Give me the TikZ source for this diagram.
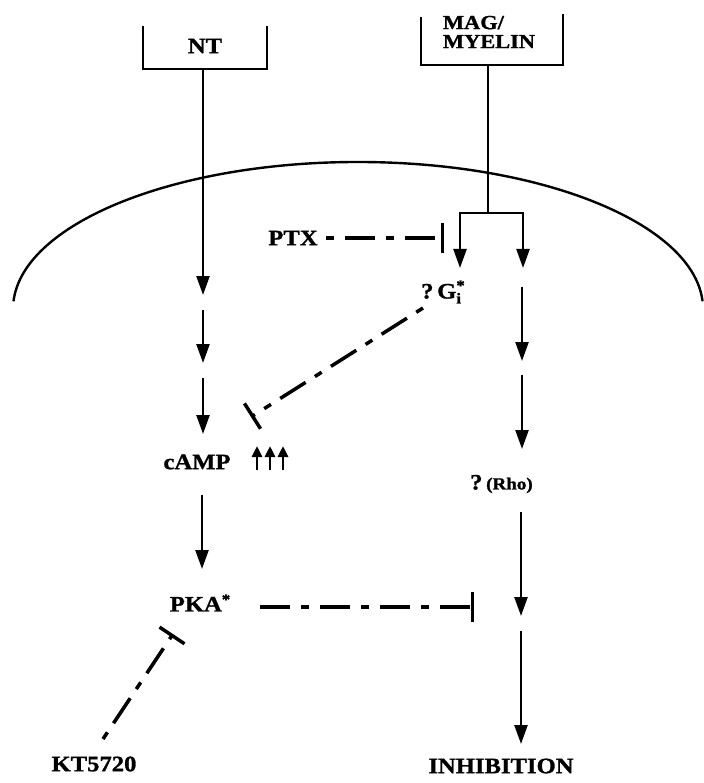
\documentclass[tikz,border=0pt]{standalone}
\usepackage{fontspec}
\setmainfont{Liberation Serif}[FakeStretch=1.12, FakeBold=1.2]
\usetikzlibrary{arrows.meta}
\begin{document}
\begin{tikzpicture}[x=1pt,y=-1pt,
  lbl/.style={font=\fontsize{22}{18}\selectfont\bfseries, inner sep=0pt},
  wire/.style={line width=2.4pt},
  boxline/.style={line width=2.8pt},
  act/.style={line width=2.4pt, -{Triangle[length=19pt,width=13pt]}},
  blk/.style={line width=3.5pt, dash pattern=on 30pt off 11pt on 8pt off 11pt,
              -{Bar[width=30pt,line width=3.5pt]}},
  rise/.style={line width=2.8pt, -{Triangle[length=11pt,width=10pt]}}
]
\useasboundingbox (0,0) rectangle (703,783);

% cell membrane
\draw[wire] (13.5,301.3) arc[start angle=183, end angle=357, x radius=345, y radius=147];

% ligand boxes (open at the top)
\draw[boxline] (143,26) |- (267,69) -- (267,26);
\node[lbl] (nt) at (205,46) {NT};
\draw[boxline] (421,17) |- (563,65) -- (563,14);
\node[lbl, align=left, font=\fontsize{20}{19}\selectfont\bfseries] (mag) at (489,32) {MAG/\\MYELIN};

% labels
\node[lbl] (ptx) at (293,238) {PTX};
\node[lbl, anchor=west] (gi) at (421,292) {?\,G\rlap{\raisebox{-5pt}{\fontsize{15}{15}\selectfont i}}\raisebox{8pt}{\fontsize{15}{15}\selectfont *}};
\node[lbl] (camp) at (197,462) {cAMP};
\node[lbl, anchor=west] (rho) at (470,484) {?\,{\fontsize{17}{17}\selectfont(Rho)}};
\node[lbl] (pka) at (200,603) {PKA\raisebox{7pt}{\fontsize{15}{15}\selectfont *}};
\node[lbl] (kt) at (94,764) {KT5720};
\node[lbl] (inh) at (501,766) {INHIBITION};

% NT pathway
\coordinate (ntout) at (203,69);
\coordinate (a1) at (203,295);
\coordinate (a2s) at (203,310);
\coordinate (a2) at (203,363);
\coordinate (a3s) at (203,378);
\coordinate (a3) at (203,434);
\coordinate (a4s) at (202,495);
\coordinate (a4) at (202,569);
\draw[act] (ntout) -- (a1);
\draw[act] (a2s) -- (a2);
\draw[act] (a3s) -- (a3);
\draw[act] (a4s) -- (a4);

% cAMP rise
\foreach \x in {257,270,283}
  \draw[rise] (\x,470) -- (\x,446);

% MAG / myelin pathway
\coordinate (magout) at (488,65);
\coordinate (split) at (488,213);
\coordinate (giin) at (460,268);
\coordinate (b1) at (523,268);
\coordinate (b2s) at (522,287);
\coordinate (b2) at (522,361);
\coordinate (b3s) at (522,375);
\coordinate (b3) at (522,449);
\coordinate (b4s) at (521,512);
\coordinate (b4) at (521,616);
\coordinate (b5s) at (521,631);
\coordinate (b5) at (521,744);
\draw[wire] (magout) -- (split);
\draw[act] (split) -| (giin);
\draw[act] (split) -| (b1);
\draw[act] (b2s) -- (b2);
\draw[act] (b3s) -- (b3);
\draw[act] (b4s) -- (b4);
\draw[act] (b5s) -- (b5);

% inhibitory links
\coordinate (ptxbar) at (444,238);
\coordinate (gistart) at (423,308);
\coordinate (campbar) at (251,417);
\coordinate (pkastart) at (260,607);
\coordinate (pkabar) at (474,607);
\coordinate (ktstart) at (103,739);
\coordinate (ktbar) at (173,634);
\draw[blk, dash phase=41pt] ([xshift=8pt]ptx.east) -- (ptxbar);
\draw[blk, dash phase=41pt] (gistart) -- (campbar);
\draw[blk] (pkastart) -- (pkabar);
\draw[blk, dash phase=41pt] (ktstart) -- (ktbar);
\end{tikzpicture}
\end{document}
